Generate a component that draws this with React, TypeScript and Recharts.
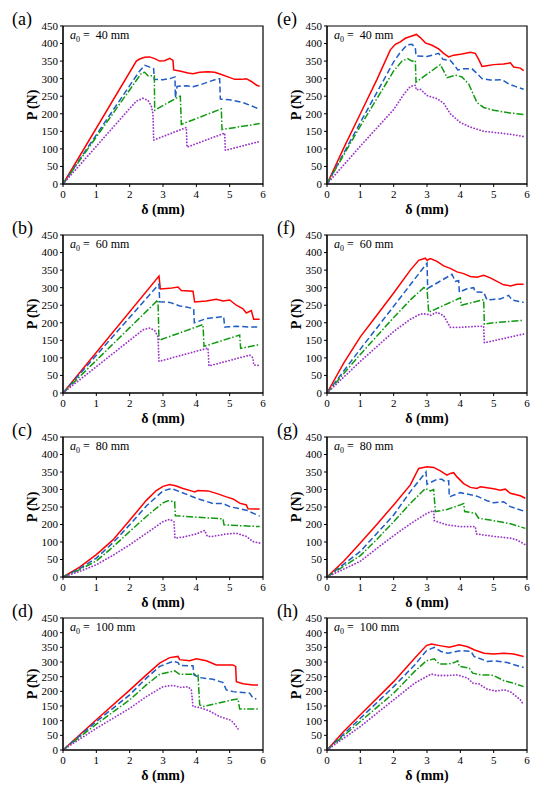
import { LineChart, Line, XAxis, YAxis, ReferenceArea } from 'recharts';

type Pt = [number, number];

const SERIF = '"Liberation Serif", "Times New Roman", serif';

const X_TICKS = [0, 1, 2, 3, 4, 5, 6];
const Y_TICKS = [0, 50, 100, 150, 200, 250, 300, 350, 400, 450];
// panels (c) and (g) have only nine evenly spaced ticks (the "150" label is missing)
const Y_TICKS_SHORT = [0, 50, 100, 150, 200, 250, 300, 350, 400];
const Y_LABELS_SHORT = ['0', '50', '100', '200', '250', '300', '350', '400', '450'];

// (a) a0 = 40 mm
const A_RED: Pt[] = [[0, 0], [2.2, 350], [2.3, 356], [2.45, 361], [2.6, 362], [2.75, 357], [2.9, 350], [3.05, 351], [3.2, 358], [3.3, 352], [3.32, 325], [3.5, 322], [3.75, 316], [3.9, 314], [4.1, 318], [4.35, 320], [4.55, 318], [4.75, 312], [4.95, 305], [5.15, 298], [5.35, 298], [5.5, 300], [5.65, 292], [5.8, 282], [5.9, 278]];
const A_BLUE: Pt[] = [[0, 0], [2.3, 322], [2.45, 338], [2.55, 335], [2.72, 328], [2.74, 298], [3.0, 297], [3.2, 300], [3.36, 305], [3.37, 245], [3.42, 278], [3.7, 280], [3.9, 277], [4.1, 282], [4.4, 292], [4.65, 300], [4.7, 300], [4.72, 242], [5.0, 240], [5.4, 232], [5.9, 213]];
const A_GREEN: Pt[] = [[0, 0], [2.35, 315], [2.45, 318], [2.55, 308], [2.74, 308], [2.75, 210], [3.5, 250], [3.52, 250], [3.55, 170], [4.75, 214], [4.77, 155], [5.9, 172]];
const A_PURPLE: Pt[] = [[0, 0], [2.0, 215], [2.2, 236], [2.4, 244], [2.55, 238], [2.65, 222], [2.7, 200], [2.72, 125], [3.7, 161], [3.72, 105], [4.85, 145], [4.87, 96], [5.9, 121]];

// (e) a0 = 40 mm
const E_RED: Pt[] = [[0, 0], [0.5, 102], [1.0, 200], [1.5, 298], [1.9, 382], [2.05, 398], [2.2, 405], [2.35, 415], [2.5, 420], [2.68, 426], [2.8, 417], [2.95, 402], [3.15, 395], [3.35, 385], [3.5, 372], [3.65, 362], [3.8, 367], [4.05, 370], [4.3, 375], [4.45, 372], [4.55, 355], [4.65, 335], [4.8, 337], [5.0, 340], [5.3, 342], [5.5, 345], [5.6, 333], [5.8, 330], [5.9, 323]];
const E_BLUE: Pt[] = [[0, 0], [1.0, 175], [2.0, 348], [2.2, 375], [2.4, 396], [2.55, 398], [2.65, 388], [2.67, 365], [3.0, 363], [3.35, 372], [3.48, 355], [3.7, 352], [3.85, 335], [3.92, 325], [4.1, 328], [4.35, 328], [4.5, 315], [4.65, 300], [4.9, 296], [5.25, 297], [5.45, 285], [5.65, 278], [5.9, 270]];
const E_GREEN: Pt[] = [[0, 0], [1.0, 165], [2.0, 322], [2.25, 350], [2.42, 357], [2.55, 350], [2.65, 352], [2.67, 290], [3.4, 340], [3.5, 322], [3.6, 303], [3.85, 310], [4.05, 305], [4.25, 285], [4.5, 232], [4.7, 218], [5.0, 210], [5.5, 202], [5.9, 198]];
const E_PURPLE: Pt[] = [[0, 0], [1.0, 108], [1.5, 160], [2.0, 212], [2.3, 255], [2.5, 278], [2.65, 281], [2.68, 268], [2.8, 270], [3.0, 252], [3.3, 243], [3.5, 230], [3.7, 200], [4.0, 175], [4.3, 162], [4.7, 150], [5.2, 145], [5.6, 140], [5.9, 135]];

// (b) a0 = 60 mm
const B_RED: Pt[] = [[0, 0], [2.88, 333], [2.92, 296], [3.2, 298], [3.45, 302], [3.55, 292], [3.9, 290], [3.95, 259], [4.3, 262], [4.6, 267], [4.8, 262], [5.0, 265], [5.2, 250], [5.4, 240], [5.5, 228], [5.65, 235], [5.72, 210], [5.9, 210]];
const B_BLUE: Pt[] = [[0, 0], [2.88, 310], [2.9, 260], [3.2, 258], [3.5, 248], [3.7, 245], [3.92, 240], [3.94, 200], [4.3, 212], [4.82, 218], [4.85, 188], [5.2, 190], [5.6, 188], [5.9, 188]];
const B_GREEN: Pt[] = [[0, 0], [2.85, 265], [2.88, 150], [4.2, 195], [4.23, 133], [5.3, 165], [5.33, 127], [5.9, 138]];
const B_PURPLE: Pt[] = [[0, 0], [2.4, 180], [2.6, 185], [2.75, 178], [2.85, 160], [2.88, 90], [4.35, 128], [4.38, 77], [5.6, 108], [5.7, 100], [5.72, 80], [5.9, 78]];

// (f) a0 = 60 mm
const F_RED: Pt[] = [[0, 0], [0.5, 85], [1.0, 160], [1.5, 222], [2.0, 285], [2.5, 350], [2.75, 378], [2.95, 384], [3.0, 378], [3.1, 383], [3.3, 375], [3.5, 362], [3.7, 355], [3.9, 345], [4.1, 340], [4.3, 332], [4.5, 330], [4.7, 335], [4.9, 328], [5.1, 318], [5.3, 308], [5.5, 305], [5.7, 310], [5.9, 310]];
const F_BLUE: Pt[] = [[0, 0], [1.0, 125], [2.0, 247], [3.0, 370], [3.02, 298], [3.75, 338], [3.85, 318], [3.95, 320], [3.97, 287], [4.2, 297], [4.4, 300], [4.45, 288], [4.7, 287], [4.8, 265], [5.2, 268], [5.45, 278], [5.55, 265], [5.9, 258]];
const F_GREEN: Pt[] = [[0, 0], [1.0, 110], [2.0, 215], [2.5, 265], [2.9, 300], [3.0, 298], [3.05, 230], [4.0, 271], [4.03, 250], [4.7, 266], [4.72, 196], [5.0, 200], [5.9, 207]];
const F_PURPLE: Pt[] = [[0, 0], [1.0, 90], [2.0, 175], [2.5, 210], [2.8, 225], [3.0, 225], [3.1, 221], [3.3, 230], [3.5, 220], [3.65, 195], [3.7, 187], [4.0, 187], [4.5, 190], [4.7, 190], [4.72, 143], [5.9, 168]];

// (c) a0 = 80 mm, values in axis-position units (0..400)
const C_RED: Pt[] = [[0, 0], [0.5, 28], [1.0, 64], [1.5, 106], [2.0, 162], [2.5, 219], [2.8, 247], [3.0, 259], [3.2, 264], [3.4, 260], [3.6, 253], [3.85, 246], [3.95, 243], [4.05, 247], [4.35, 246], [4.6, 239], [4.9, 229], [5.1, 223], [5.3, 211], [5.5, 206], [5.55, 195], [5.9, 194]];
const C_BLUE: Pt[] = [[0, 0], [0.5, 24], [1.0, 54], [1.5, 98], [2.0, 149], [2.5, 203], [3.0, 246], [3.25, 253], [3.5, 244], [4.0, 225], [4.5, 210], [4.8, 210], [5.0, 201], [5.5, 191], [5.9, 174]];
const C_GREEN: Pt[] = [[0, 0], [0.5, 21], [1.0, 46], [1.5, 86], [2.0, 130], [2.5, 173], [3.0, 212], [3.15, 218], [3.35, 215], [3.37, 175], [4.0, 171], [4.8, 166], [4.83, 149], [5.9, 144]];
const C_PURPLE: Pt[] = [[0, 0], [0.5, 16], [1.0, 35], [1.5, 62], [2.0, 92], [2.5, 125], [3.0, 158], [3.2, 165], [3.33, 158], [3.36, 111], [3.6, 114], [4.0, 123], [4.25, 133], [4.33, 116], [4.5, 116], [4.9, 123], [5.2, 125], [5.5, 116], [5.7, 101], [5.9, 97]];

// (g) a0 = 80 mm, values in axis-position units (0..400)
const G_RED: Pt[] = [[0, 0], [0.5, 45], [1.0, 97], [1.5, 151], [2.0, 206], [2.5, 263], [2.75, 310], [3.0, 315], [3.2, 313], [3.4, 303], [3.6, 291], [3.7, 296], [3.8, 298], [3.9, 286], [4.1, 267], [4.3, 256], [4.5, 253], [4.6, 258], [5.0, 252], [5.2, 248], [5.35, 251], [5.5, 239], [5.8, 232], [5.95, 225]];
const G_BLUE: Pt[] = [[0, 0], [1.0, 73], [1.5, 125], [2.0, 177], [2.5, 244], [2.97, 300], [3.0, 265], [3.3, 279], [3.45, 279], [3.55, 272], [3.65, 275], [3.67, 229], [4.0, 241], [4.2, 237], [4.5, 231], [4.8, 218], [5.0, 212], [5.3, 215], [5.5, 201], [5.95, 187]];
const G_GREEN: Pt[] = [[0, 0], [1.0, 61], [1.5, 108], [2.0, 158], [2.5, 210], [2.95, 253], [3.1, 246], [3.2, 250], [3.25, 187], [3.6, 193], [4.0, 206], [4.1, 210], [4.13, 187], [4.45, 182], [4.55, 168], [5.0, 161], [5.5, 152], [5.95, 139]];
const G_PURPLE: Pt[] = [[0, 0], [1.0, 45], [1.5, 82], [2.0, 118], [2.5, 152], [3.0, 182], [3.2, 190], [3.22, 161], [3.6, 149], [4.0, 144], [4.45, 144], [4.48, 123], [5.0, 116], [5.5, 111], [5.7, 106], [5.95, 92]];

// (d) a0 = 100 mm
const D_RED: Pt[] = [[0, 0], [1.0, 103], [2.0, 204], [2.5, 256], [2.9, 296], [3.2, 315], [3.45, 319], [3.5, 308], [3.8, 304], [4.0, 311], [4.3, 304], [4.6, 290], [4.9, 290], [5.1, 290], [5.18, 285], [5.2, 233], [5.4, 226], [5.7, 222], [5.85, 222]];
const D_BLUE: Pt[] = [[0, 0], [1.0, 97], [2.0, 188], [2.5, 245], [2.9, 285], [3.3, 302], [3.45, 298], [3.5, 288], [3.9, 287], [3.93, 256], [4.1, 247], [4.5, 241], [4.8, 230], [4.9, 205], [5.1, 199], [5.6, 194], [5.7, 177], [5.8, 174]];
const D_GREEN: Pt[] = [[0, 0], [1.0, 88], [2.0, 171], [2.5, 222], [2.9, 258], [3.35, 270], [3.5, 258], [3.9, 258], [4.05, 256], [4.1, 154], [4.2, 148], [5.1, 171], [5.25, 174], [5.3, 140], [5.85, 140]];
const D_PURPLE: Pt[] = [[0, 0], [1.0, 74], [2.0, 142], [2.5, 182], [3.0, 216], [3.3, 220], [3.55, 213], [3.75, 216], [3.85, 205], [3.9, 148], [4.1, 145], [4.4, 133], [4.7, 114], [5.0, 103], [5.1, 95], [5.25, 72]];

// (h) a0 = 100 mm
const H_RED: Pt[] = [[0, 0], [0.5, 63], [1.0, 120], [2.0, 233], [2.63, 313], [2.98, 356], [3.13, 361], [3.42, 355], [3.67, 350], [3.97, 359], [4.22, 352], [4.41, 342], [4.71, 330], [5.0, 327], [5.31, 330], [5.6, 327], [5.9, 319]];
const H_BLUE: Pt[] = [[0, 0], [1.0, 108], [2.0, 216], [2.63, 290], [2.98, 338], [3.22, 350], [3.42, 336], [3.62, 330], [4.02, 339], [4.32, 336], [4.41, 319], [4.81, 302], [5.0, 304], [5.41, 298], [5.9, 281]];
const H_GREEN: Pt[] = [[0, 0], [1.0, 97], [2.0, 194], [2.63, 268], [2.98, 304], [3.22, 311], [3.37, 293], [3.62, 293], [3.82, 298], [3.92, 304], [3.97, 285], [4.27, 279], [4.37, 262], [4.61, 256], [4.81, 256], [5.0, 254], [5.31, 236], [5.6, 228], [5.9, 216]];
const H_PURPLE: Pt[] = [[0, 0], [1.0, 80], [2.0, 171], [2.63, 228], [3.13, 259], [3.32, 254], [3.62, 254], [3.92, 256], [4.22, 245], [4.37, 228], [4.56, 225], [4.81, 207], [5.06, 201], [5.31, 205], [5.5, 199], [5.8, 171], [5.9, 154]];

const SERIES_STYLE = [
    { color: '#ff0000', dash: undefined as string | undefined, cap: 'butt' as const },
    { color: '#1f5cc4', dash: '6 3', cap: 'butt' as const },
    { color: '#0f9a0f', dash: '7 2 1.5 2', cap: 'butt' as const },
    { color: '#9b35c9', dash: '0.1 3', cap: 'round' as const },
];

const PANELS = [
    { id: 'a', left: 63, top: 26, h: 158, a0: 40, short: false, series: [A_RED, A_BLUE, A_GREEN, A_PURPLE] },
    { id: 'e', left: 327, top: 26, h: 158, a0: 40, short: false, series: [E_RED, E_BLUE, E_GREEN, E_PURPLE] },
    { id: 'b', left: 63, top: 235, h: 158, a0: 60, short: false, series: [B_RED, B_BLUE, B_GREEN, B_PURPLE] },
    { id: 'f', left: 327, top: 235, h: 158, a0: 60, short: false, series: [F_RED, F_BLUE, F_GREEN, F_PURPLE] },
    { id: 'c', left: 63, top: 437, h: 140, a0: 80, short: true, series: [C_RED, C_BLUE, C_GREEN, C_PURPLE] },
    { id: 'g', left: 327, top: 437, h: 140, a0: 80, short: true, series: [G_RED, G_BLUE, G_GREEN, G_PURPLE] },
    { id: 'd', left: 63, top: 618, h: 132, a0: 100, short: false, series: [D_RED, D_BLUE, D_GREEN, D_PURPLE] },
    { id: 'h', left: 327, top: 618, h: 132, a0: 100, short: false, series: [H_RED, H_BLUE, H_GREEN, H_PURPLE] },
];

const toPts = (arr: Pt[]) => arr.map(([d, p]) => ({ d, p }));

const PLOT_W = 200;
const Y_W = 40;
const M_TOP = 5;
const M_RIGHT = 8;
const X_H = 30;

type PanelProps = (typeof PANELS)[number];

const Panel = ({ id, left, top, h, a0, short, series }: PanelProps) => {
    const yMax = short ? 400 : 450;
    const ticks = short ? Y_TICKS_SHORT : Y_TICKS;
    const tickStyle = { fill: '#000', fontSize: 11, fontFamily: SERIF };
    return (
        <>
            <div style={{ position: 'absolute', left: left - Y_W, top: top - M_TOP }}>
                <LineChart
                    width={PLOT_W + Y_W + M_RIGHT}
                    height={h + M_TOP + X_H}
                    margin={{ top: M_TOP, right: M_RIGHT, bottom: 0, left: 0 }}
                >
                    <XAxis
                        dataKey="d"
                        type="number"
                        domain={[0, 6]}
                        ticks={X_TICKS}
                        interval={0}
                        height={X_H}
                        tickSize={3}
                        tickMargin={3}
                        stroke="#000"
                        tick={tickStyle}
                    />
                    <YAxis
                        dataKey="p"
                        type="number"
                        domain={[0, yMax]}
                        ticks={ticks}
                        interval={0}
                        width={Y_W}
                        tickSize={3}
                        tickMargin={2}
                        stroke="#000"
                        tick={tickStyle}
                        tickFormatter={(v: number) => (short ? Y_LABELS_SHORT[Y_TICKS_SHORT.indexOf(v)] : String(v))}
                    />
                    <ReferenceArea x1={0} x2={6} y1={0} y2={yMax} fill="none" stroke="#000" strokeWidth={1.2} ifOverflow="visible" />
                    {series.map((s, i) => (
                        <Line
                            key={i}
                            data={toPts(s)}
                            dataKey="p"
                            type="linear"
                            stroke={SERIES_STYLE[i].color}
                            strokeWidth={i === 3 ? 1.8 : 1.5}
                            strokeDasharray={SERIES_STYLE[i].dash}
                            strokeLinecap={SERIES_STYLE[i].cap}
                            dot={false}
                            activeDot={false}
                            isAnimationActive={false}
                        />
                    ))}
                </LineChart>
            </div>
            {/* panel letter */}
            <div style={{
                position: 'absolute', left: left < 200 ? 12 : 277, top: top - 18, lineHeight: '22px',
                fontFamily: SERIF, fontSize: 18, color: '#000'
            }}>({id})</div>
            {/* crack length annotation */}
            <div style={{
                position: 'absolute', left: left + 7, top: top + 2, lineHeight: '14px',
                fontFamily: SERIF, fontSize: 12, color: '#000', whiteSpace: 'nowrap'
            }}>
                <i>a</i><sub style={{ fontSize: 8 }}>0</sub> =&nbsp; {a0} mm
            </div>
            {/* y-axis title */}
            <div style={{
                position: 'absolute', left: left - 30 - 30, top: top + h / 2 - 9, width: 60, height: 18,
                lineHeight: '18px', textAlign: 'center', transform: 'rotate(-90deg)',
                fontFamily: SERIF, fontWeight: 'bold', fontSize: 14, color: '#000'
            }}>P (N)</div>
            {/* x-axis title */}
            <div style={{
                position: 'absolute', left: left, top: top + h + 18, width: PLOT_W, lineHeight: '16px',
                textAlign: 'center', fontFamily: SERIF, fontWeight: 'bold', fontSize: 14, color: '#000'
            }}>δ (mm)</div>
        </>
    );
};

export default function App() {
    return (
        <div style={{ position: 'absolute', left: 0, top: 0, width: 550, height: 796, background: '#fff' }}>
            {PANELS.map(p => <Panel key={p.id} {...p} />)}
        </div>
    );
}
